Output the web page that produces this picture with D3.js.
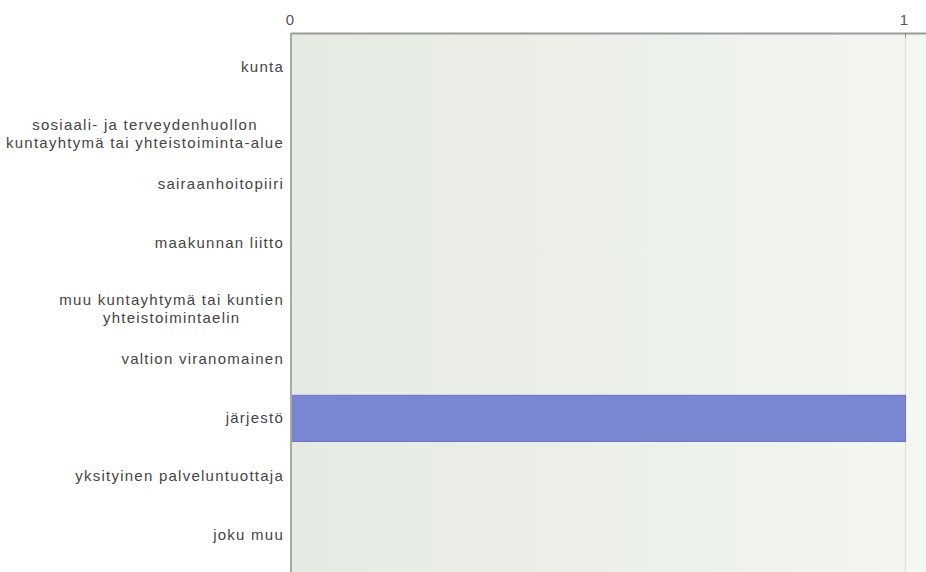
<!DOCTYPE html>
<html>
  <head>
    <meta charset="utf-8" />
    <title>vastaukset</title>
    <style>
      body {
        margin: 0;
        background: #fff;
      }
    </style>
  </head>
  <body>
    <script src="https://cdn.jsdelivr.net/npm/d3@7"></script>
    <svg class="canvas"></svg>
    <script>
      const categories = [
        ["kunta"],
        ["sosiaali- ja terveydenhuollon", "kuntayhtymä tai yhteistoiminta-alue"],
        ["sairaanhoitopiiri"],
        ["maakunnan liitto"],
        ["muu kuntayhtymä tai kuntien", "yhteistoimintaelin"],
        ["valtion viranomainen"],
        ["järjestö"],
        ["yksityinen palveluntuottaja"],
        ["joku muu"],
      ];
      const values = [0, 0, 0, 0, 0, 0, 1, 0, 0];
      const ticks = [0, 1];

      const width = 926,
        height = 572;
      const plotLeft = 291,
        plotRight = 905,
        plotTop = 33,
        bandTop = 38,
        bandBottom = 564;

      const svg = d3
        .select(".canvas")
        .attr("width", width)
        .attr("height", height)
        .style("display", "block")
        .style("font-family", "'Liberation Sans', Arial, sans-serif");

      const x = d3.scaleLinear().domain([0, 1]).range([plotLeft, plotRight]);
      const y = d3
        .scaleBand()
        .domain(d3.range(categories.length))
        .range([bandTop, bandBottom])
        .paddingInner(0.21)
        .paddingOuter(0.105);

      //---------------background----------------
      const grad = svg
        .append("defs")
        .append("linearGradient")
        .attr("id", "bg")
        .attr("x1", "0%")
        .attr("x2", "100%");
      grad.append("stop").attr("offset", "0%").attr("stop-color", "#e5eae2");
      grad.append("stop").attr("offset", "100%").attr("stop-color", "#f2f5f0");

      svg
        .append("rect")
        .attr("x", plotRight)
        .attr("y", plotTop)
        .attr("width", width - plotRight)
        .attr("height", height - plotTop)
        .attr("fill", "#f5f7f4");

      svg
        .append("rect")
        .attr("x", plotLeft)
        .attr("y", plotTop)
        .attr("width", plotRight - plotLeft)
        .attr("height", height - plotTop)
        .attr("fill", "url(#bg)");

      //---------------grid + axis----------------
      svg
        .selectAll(".grid")
        .data(ticks.slice(1))
        .join("line")
        .attr("x1", (d) => x(d) + 0.5)
        .attr("x2", (d) => x(d) + 0.5)
        .attr("y1", plotTop)
        .attr("y2", height)
        .attr("stroke", "#e0e3de")
        .attr("stroke-width", 1.5);

      svg
        .selectAll(".tick")
        .data(ticks)
        .join("text")
        .attr("x", (d) => x(d) - 1)
        .attr("y", 25)
        .attr("text-anchor", "middle")
        .attr("font-size", 15)
        .attr("fill", "#555")
        .text((d) => d);

      svg
        .selectAll(".tickmark")
        .data(ticks.slice(1))
        .join("line")
        .attr("x1", (d) => x(d) + 0.5)
        .attr("x2", (d) => x(d) + 0.5)
        .attr("y1", plotTop)
        .attr("y2", plotTop + 5)
        .attr("stroke", "#999");

      //----------------bars-----------------
      svg
        .selectAll(".bar")
        .data(values)
        .join("rect")
        .attr("x", x(0) + 0.5)
        .attr("y", (d, i) => y(i) + 0.5)
        .attr("width", (d) => x(d) - x(0))
        .attr("height", y.bandwidth())
        .attr("fill", "#7a86d1")
        .attr("stroke", (d) => (d > 0 ? "#6a75c3" : "none"));

      svg
        .append("line")
        .attr("x1", plotLeft)
        .attr("x2", width)
        .attr("y1", plotTop + 0.5)
        .attr("y2", plotTop + 0.5)
        .attr("stroke", "#9a9a9a")
        .attr("stroke-width", 2);

      svg
        .append("line")
        .attr("x1", plotLeft)
        .attr("x2", plotLeft)
        .attr("y1", plotTop)
        .attr("y2", height)
        .attr("stroke", "#a8aaa6")
        .attr("stroke-width", 2);

      //----------------labels-----------------
      const labelRight = 284;
      categories.forEach((lines, i) => {
        const cy = y(i) + y.bandwidth() / 2;
        const n = lines.length;
        const g = svg.append("g");
        const texts = lines.map((t, j) =>
          g
            .append("text")
            .attr("y", cy + (j - (n - 1) / 2) * 18 + (n - 1) * 8 + 5)
            .attr("font-size", 15)
            .attr("letter-spacing", "1.25px")
            .attr("fill", "#444")
            .text(t)
        );
        const w = d3.max(texts, (t) => t.node().getComputedTextLength());
        texts.forEach((t) =>
          t.attr("x", labelRight - w / 2).attr("text-anchor", "middle")
        );
      });
    </script>
  </body>
</html>
